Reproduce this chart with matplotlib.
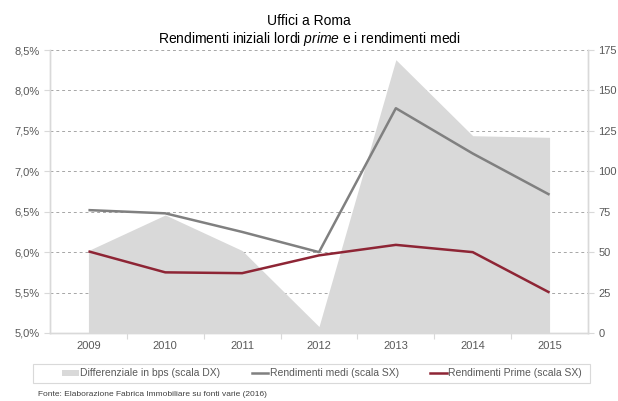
import matplotlib
matplotlib.use("Agg")
import matplotlib.pyplot as plt
from matplotlib.lines import Line2D
from matplotlib.patches import Patch, Rectangle
from matplotlib.ticker import FuncFormatter, MultipleLocator

plt.rcParams['font.family'] = ['Liberation Sans', 'DejaVu Sans']
plt.rcParams['mathtext.fontset'] = 'custom'
plt.rcParams['mathtext.it'] = 'Liberation Sans:italic'
plt.rcParams['mathtext.rm'] = 'Liberation Sans'

years = ["2009", "2010", "2011", "2012", "2013", "2014", "2015"]
spread_bps = [51, 73, 51, 4, 169, 122, 121]               # right scale
avg_yield = [6.52, 6.48, 6.25, 6.00, 7.78, 7.22, 6.71]    # left scale, %
prime_yield = [6.01, 5.75, 5.74, 5.96, 6.09, 6.00, 5.50]  # left scale, %

area_color = "#D9D9D9"
avg_color = "#808080"
prime_color = "#8E2535"
text_color = "#595959"
axis_color = "#D9D9D9"

W, H = 618, 401
fig = plt.figure(figsize=(W / 100, H / 100), dpi=100)
ax = fig.add_axes([50 / W, 1 - 333 / H, 538 / W, 283 / H])
x = list(range(len(years)))

# spread area on the right-hand scale
ax.fill_between(x, 0, spread_bps, color=area_color, linewidth=0, zorder=2)
ax.set_ylim(0, 175)
ax.set_xlim(-0.5, len(years) - 0.5)
ax.yaxis.set_major_locator(MultipleLocator(25))
ax.set_axisbelow(True)
ax.yaxis.grid(True, linestyle=(0, (3, 3)), color="#A6A6A6", linewidth=0.7, zorder=0)

# yield lines on the left-hand scale
ax2 = ax.twinx()
ax2.plot(x, avg_yield, color=avg_color, linewidth=1.8, solid_capstyle='butt')
ax2.plot(x, prime_yield, color=prime_color, linewidth=1.8, solid_capstyle='butt')
ax2.set_ylim(5.0, 8.5)
ax2.yaxis.set_major_locator(MultipleLocator(0.5))
ax2.yaxis.set_major_formatter(FuncFormatter(lambda v, p: f"{v:.1f}%".replace(".", ",")))
ax2.yaxis.tick_left()
ax.yaxis.tick_right()

for a in (ax, ax2):
    a.spines['top'].set_visible(False)
    for s in ('left', 'right', 'bottom'):
        a.spines[s].set_color(axis_color)
        a.spines[s].set_linewidth(1.0)
    a.tick_params(axis='y', colors=axis_color, labelcolor=text_color, labelsize=8, length=4, width=0.8)

# category ticks sit between the years
ax.set_xticks([i + 0.5 for i in range(len(years) - 1)], minor=False)
ax.set_xticklabels([])
ax.set_xticks(x, minor=True)
ax.set_xticklabels(years, minor=True)
ax.tick_params(axis='x', which='major', colors=axis_color, length=4, width=0.8)
ax.tick_params(axis='x', which='minor', length=0, labelcolor=text_color, labelsize=8, pad=6)

fig.text(0.5, 1 - 21 / H, "Uffici a Roma", ha='center', va='center', fontsize=10, color="#000000")
fig.text(0.5, 1 - 39 / H, r"Rendimenti iniziali lordi $\it{prime}$ e i rendimenti medi",
         ha='center', va='center', fontsize=10, color="#000000")

# legend box outline
fig.patches.append(Rectangle((33 / W, 1 - 383 / H), 557 / W, 19 / H, transform=fig.transFigure,
                             facecolor='none', edgecolor=axis_color, linewidth=0.8))

handles = [
    Patch(facecolor=area_color, edgecolor='none', label="Differenziale in bps (scala DX)"),
    Line2D([], [], color=avg_color, linewidth=1.8, label="Rendimenti medi (scala SX)"),
    Line2D([], [], color=prime_color, linewidth=1.8, label="Rendimenti Prime (scala SX)"),
]
leg = fig.legend(handles=handles, loc='center', bbox_to_anchor=(322 / W, 1 - 373.5 / H),
                 ncol=3, fontsize=7.5, frameon=False,
                 handlelength=1.6, handleheight=0.45, columnspacing=3.0, handletextpad=0.15,
                 borderpad=0.0, borderaxespad=0)
for t in leg.get_texts():
    t.set_color(text_color)

fig.text(38 / W, 1 - 395 / H, "Fonte: Elaborazione Fabrica Immobiliare su fonti varie (2016)",
         ha='left', va='center', fontsize=6, color="#404040")

fig.savefig("out.png", dpi=100)
